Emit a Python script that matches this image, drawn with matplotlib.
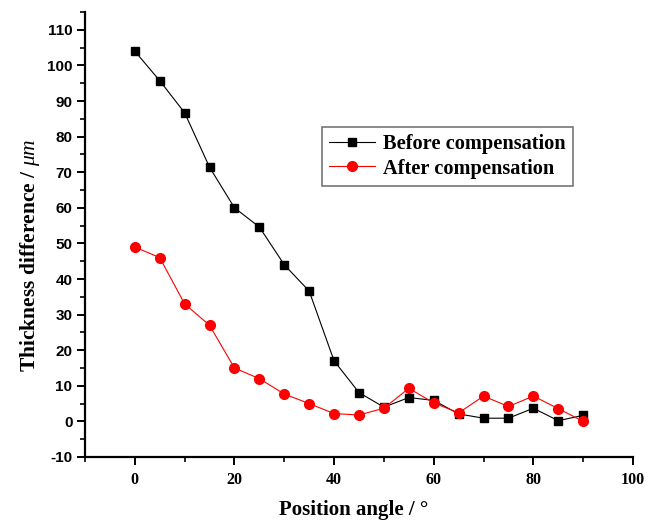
import matplotlib
matplotlib.use("Agg")
import matplotlib.pyplot as plt
from matplotlib.ticker import MultipleLocator

plt.rcParams["mathtext.fontset"] = "custom"
plt.rcParams["mathtext.it"] = "Liberation Serif:italic"
plt.rcParams["mathtext.rm"] = "Liberation Serif"
plt.rcParams["axes.unicode_minus"] = False

angles = [0, 5, 10, 15, 20, 25, 30, 35, 40, 45, 50, 55, 60, 65, 70, 75, 80, 85, 90]
before = [104, 95.7, 86.7, 71.4, 60, 54.6, 44, 36.6, 17, 8.1, 4.0, 6.7, 5.9, 2.1, 0.9, 0.9, 3.7, 0.2, 1.7]
after = [49, 46, 33, 27, 15, 12, 7.7, 5, 2.2, 1.8, 3.7, 9.3, 5.2, 2.4, 7.1, 4.2, 7.1, 3.6, 0]
labels = ["Before compensation", "After compensation"]

fig = plt.figure(figsize=(6.5, 5.21), dpi=100)
ax = fig.add_axes([85/650, 1-457/521, (633-85)/650, (457-12)/521])

ax.plot(angles, before, color="black", lw=0.8, marker="s", ms=6, mfc="black", mec="black", label=labels[0])
ax.plot(angles, after, color="red", lw=0.8, marker="o", ms=7, mfc="red", mec="red", label=labels[1])

ax.set_xlim(-10, 100)
ax.set_ylim(-10, 115)
ax.xaxis.set_major_locator(MultipleLocator(20))
ax.xaxis.set_minor_locator(MultipleLocator(10))
ax.yaxis.set_major_locator(MultipleLocator(10))
ax.yaxis.set_minor_locator(MultipleLocator(5))
ax.set_xticks([0, 20, 40, 60, 80, 100])

for s in ["top", "right"]:
    ax.spines[s].set_visible(False)
for s in ["left", "bottom"]:
    ax.spines[s].set_linewidth(1.6)

ax.tick_params(which="major", direction="out", length=6, width=1.4)
ax.tick_params(which="minor", direction="out", length=3.5, width=1.2)
ax.tick_params(axis="x", which="major", pad=5)
ax.tick_params(axis="y", which="major", pad=3)

for t in ax.get_xticklabels():
    t.set_fontfamily("Liberation Serif")
    t.set_fontweight("bold")
    t.set_fontsize(11.5)
for t in ax.get_yticklabels():
    t.set_fontfamily("Liberation Sans")
    t.set_fontweight("bold")
    t.set_fontsize(11)

ax.set_xlabel("Position angle / °", family="Liberation Serif", weight="bold", fontsize=15)
ax.xaxis.set_label_coords((354-85)/548, -(500-457)/445)
ax.set_ylabel(r"Thickness difference / $\mathit{\mu m}$", family="Liberation Serif", weight="bold", fontsize=15.5)
ax.yaxis.set_label_coords(-(85-42)/548, (457-255)/445)

leg = ax.legend(loc="upper left", bbox_to_anchor=((322-85)/548, (457-127)/445),
                prop={"family": "Liberation Serif", "weight": "bold", "size": 14.7},
                frameon=True, fancybox=False, borderpad=0.35, labelspacing=0.22,
                handlelength=2.25, handletextpad=0.4, borderaxespad=0)
leg.get_frame().set_edgecolor("#555555")
leg.get_frame().set_linewidth(1.2)

fig.savefig("out.png", dpi=100)
